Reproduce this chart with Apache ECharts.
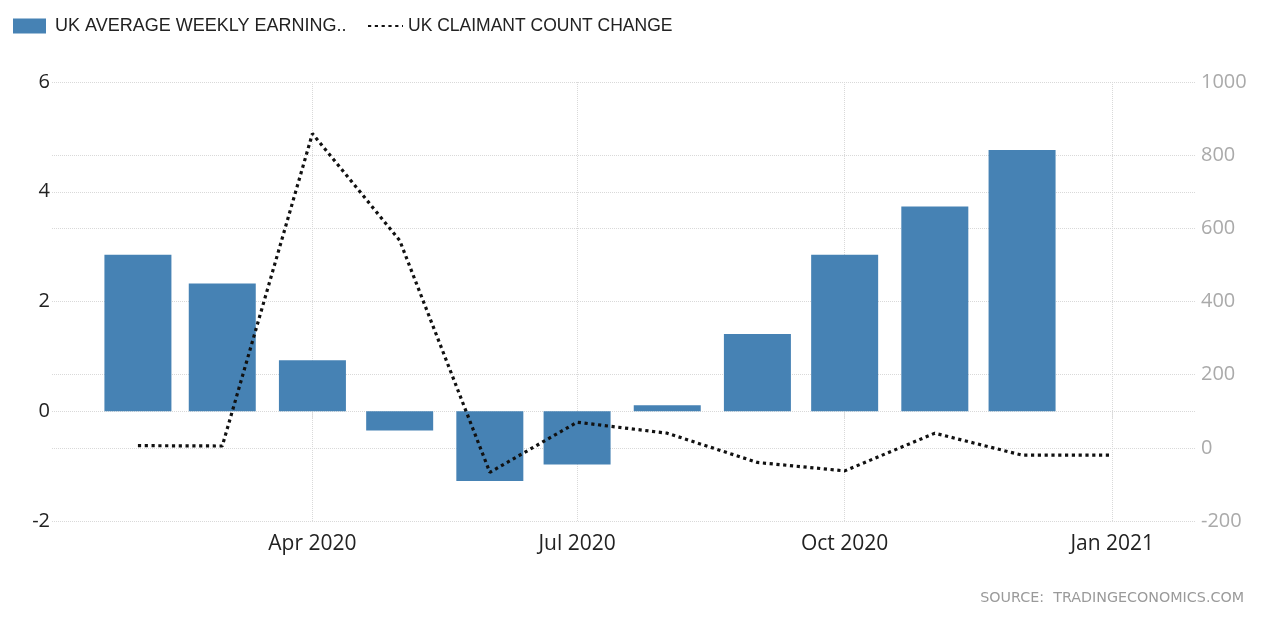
<!DOCTYPE html>
<html>
<head>
<meta charset="utf-8">
<script src="https://cdn.jsdelivr.net/npm/echarts@6/dist/echarts.min.js"></script>
<style>
html,body{margin:0;padding:0;background:#fff;}
#chart{width:1263px;height:622px;}
</style>
</head>
<body>
<div id="chart"></div>
<script>
// ---- data ----
const barDates = ['2020-02-01','2020-03-01','2020-04-01','2020-05-01','2020-06-01','2020-07-01','2020-08-01','2020-09-01','2020-10-01','2020-11-01','2020-12-01'];
const earnings = [2.85, 2.33, 0.93, -0.35, -1.27, -0.97, 0.11, 1.41, 2.85, 3.73, 4.76];
const lineDates = ['2020-02-01','2020-03-01','2020-04-01','2020-05-01','2020-06-01','2020-07-01','2020-08-01','2020-09-01','2020-10-01','2020-11-01','2020-12-01','2021-01-01'];
const claimant = [6, 5, 859, 567, -67, 70, 40, -40, -63, 40, -20, -20];
const xTickDates = ['2020-04-01','2020-07-01','2020-10-01','2021-01-01'];
const seriesNames = ['UK AVERAGE WEEKLY EARNING..', 'UK CLAIMANT COUNT CHANGE'];
const monthNames = ['Jan','Feb','Mar','Apr','May','Jun','Jul','Aug','Sep','Oct','Nov','Dec'];

function ts(s){ const p = s.split('-').map(Number); return Date.UTC(p[0], p[1]-1, p[2]); }
const HOUR = 3600 * 1000;

const chart = echarts.init(document.getElementById('chart'));
const gridColor = '#d9d9d9';
const dotted = { color: '#111', width: 3.2, type: [3.2, 3.6] };
const option = {
  animation: false,
  backgroundColor: '#fff',
  textStyle: { fontFamily: '"Open Sans", "Liberation Sans", sans-serif' },
  legend: [
    {
      left: 13, top: 17, padding: 0, itemWidth: 33, itemHeight: 15,
      textStyle: { fontSize: 18, color: '#222', fontFamily: '"Liberation Sans", Arial, sans-serif', padding: [0, 0, 0, 4] },
      data: [{ name: seriesNames[0], icon: 'rect' }]
    },
    {
      left: 367, top: 17, padding: 0, itemWidth: 35, itemHeight: 15,
      textStyle: { fontSize: 17.5, color: '#222', fontFamily: '"Liberation Sans", Arial, sans-serif' },
      data: [{ name: seriesNames[1], itemStyle: { opacity: 0 } }]
    }
  ],
  grid: { left: 52, right: 68, top: 82, bottom: 101, containLabel: false },
  xAxis: {
    type: 'value',
    min: ts('2020-01-02') + 11 * HOUR,
    max: ts('2021-01-29') + 11 * HOUR,
    axisLine: { show: false },
    axisTick: { show: true, length: 7, customValues: xTickDates.map(ts), lineStyle: { color: gridColor, type: 'dotted' } },
    axisLabel: {
      customValues: xTickDates.map(ts),
      fontSize: 21, color: '#222', margin: 13,
      formatter: function (v) { const d = new Date(v); return monthNames[d.getUTCMonth()] + ' ' + d.getUTCFullYear(); }
    },
    splitLine: { show: true, lineStyle: { color: gridColor, type: 'dotted', width: 1 } }
  },
  yAxis: [
    {
      type: 'value', min: -2, max: 6, interval: 2, position: 'left',
      axisLine: { show: false }, axisTick: { show: false },
      axisLabel: { fontSize: 20, color: '#222', margin: 2 },
      splitLine: { show: true, lineStyle: { color: gridColor, type: 'dotted', width: 1 } }
    },
    {
      type: 'value', min: -200, max: 1000, interval: 200, position: 'right',
      axisLine: { show: false }, axisTick: { show: false },
      axisLabel: { fontSize: 20, color: '#aaa', margin: 6, formatter: function (v) { return String(v); } },
      splitLine: { show: true, lineStyle: { color: gridColor, type: 'dotted', width: 1 } }
    }
  ],
  series: [
    {
      name: seriesNames[0], type: 'bar', yAxisIndex: 0,
      barWidth: 67,
      itemStyle: { color: '#4682b4' },
      data: barDates.map((d, i) => [ts(d), earnings[i]])
    },
    {
      name: seriesNames[1], type: 'line', yAxisIndex: 1,
      symbol: 'none', showSymbol: false,
      lineStyle: dotted,
      itemStyle: { color: '#111' },
      data: lineDates.map((d, i) => [ts(d), claimant[i]])
    }
  ],
  graphic: [
    {
      type: 'text', right: 19, top: 591,
      style: { text: 'SOURCE:  TRADINGECONOMICS.COM', fill: '#9a9a9a', font: '14.3px "DejaVu Sans", sans-serif' }
    }
  ]
};
chart.setOption(option);
</script>
</body>
</html>
